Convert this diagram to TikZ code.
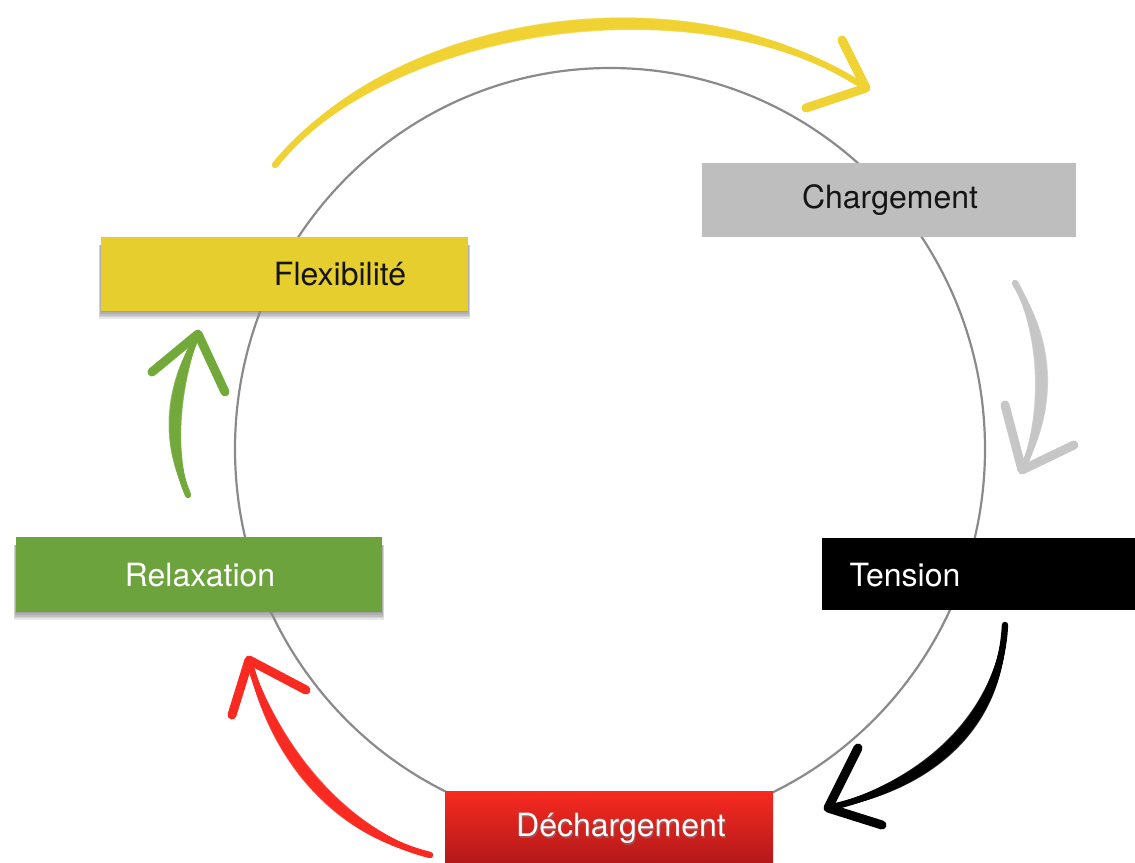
\documentclass[tikz,border=0pt]{standalone}
\usepackage{fontspec}
\setmainfont{TeX Gyre Heros}
\usetikzlibrary{calc,backgrounds}
\definecolor{cring}{HTML}{8A8A8E}
\definecolor{cgrey}{HTML}{BEBEBE}
\definecolor{cyellow}{HTML}{E6CE2F}
\definecolor{cgreen}{HTML}{6CA33C}
\definecolor{credtop}{HTML}{F72A20}
\definecolor{credbot}{HTML}{B4191A}
\definecolor{ayellow}{HTML}{F0D232}
\definecolor{agrey}{HTML}{C6C6C6}
\definecolor{ared}{HTML}{F82A22}
\definecolor{agreen}{HTML}{72A93A}
% barbs: a few offset strokes
\newcommand\brushdraw[2]{%
  \foreach \dx/\dy/\w/\o in {0/0/4.5/1, 1.5/1.2/2/0.8, -1.5/-1.2/2/0.8, 2.5/-2/1/0.6, -2.5/2/1/0.6}{%
    \draw[#1, line width=\w pt, opacity=\o, line cap=round, line join=round, shift={(\dx,\dy)}] #2;
  }}
% body: bundle of curves sharing end points, bulging in the middle
% #1 colour, #2 start, #3 end, #4 control 1, #5 control 2, #6 unit normal
\newcommand\brushcurve[6]{%
  \draw[#1, line width=3.2pt, line cap=round] (#2) .. controls (#4) and (#5) .. (#3);
  \foreach \k/\w/\o in {-7.5/1/0.6, -6/1.6/0.85, -4.5/1.8/0.95, -3/2/1, -1.5/2.2/1, 1.5/2.2/1, 3/2/1, 4.5/1.8/0.95, 6/1.6/0.85, 7.5/1/0.6}{%
    \draw[#1, line width=\w pt, opacity=\o, line cap=round]
      (#2) .. controls ($(#4)+\k*(#6)$) and ($(#5)+\k*(#6)$) .. (#3);
  }}
\newcommand\softshadow[1]{%
  \begin{scope}[on background layer]
  \foreach \i in {0,1,2,3,4}{%
    \fill[black, opacity=0.09] ($(#1.north west)+(-\i/2,8)$) rectangle ($(#1.south east)+(\i/2,1+1.6*\i)$);
  }
  \end{scope}}
\tikzset{
  box/.style={draw=none, inner sep=0pt, anchor=center},
  lbl/.style={inner sep=0pt, anchor=center, font=\fontsize{16}{19}\selectfont}
}
\begin{document}
\begin{tikzpicture}[x=0.5pt,y=-0.5pt]
\useasboundingbox (0,0) rectangle (1135,862);
% ring
\draw[cring, line width=1.1pt] (610,449) ellipse [x radius=187.5pt, y radius=190.5pt];

% boxes
\node[box, fill=cgrey, minimum width=187pt, minimum height=37pt] (charge) at (889,200) {};
\node[box, fill=cyellow, minimum width=183.5pt, minimum height=37pt] (flex) at (284.5,274) {};
\node[box, fill=black, minimum width=156.5pt, minimum height=36pt] (tens) at (978.5,574) {};
\node[box, fill=cgreen, minimum width=183pt, minimum height=37.5pt] (relax) at (199,574.5) {};
\node[box, top color=credtop, bottom color=credbot, minimum width=164pt, minimum height=35.5pt] (dech) at (609,826.5) {};
\softshadow{flex}
\softshadow{relax}

% labels
\node[lbl, text=black!92] (tcharge) at (890,200) {Chargement};
\node[lbl, text=black!92] (tflex) at (340,274) {Flexibilité};
\node[lbl, text=white] (ttens) at (905,575) {Tension};
\node[lbl, text=white] (trelax) at (200,575) {Relaxation};
\node[lbl, text=black!50, opacity=0.5] at (622,830) {Déchargement};
\node[lbl, text=white] (tdech) at (621,828) {Déchargement};

% yellow arrow
\coordinate (y0) at (275,165); \coordinate (y1) at (866,88);
\coordinate (yb1) at (842,40); \coordinate (yb2) at (806,108);
\brushcurve{ayellow}{y0}{y1}{390,22}{690,-28}{0.13,1}
\brushdraw{ayellow}{(yb1) -- (y1) -- (yb2)}

% grey arrow
\coordinate (g0) at (1015,283); \coordinate (g1) at (1022,470);
\coordinate (gb1) at (1005,405); \coordinate (gb2) at (1074,445);
\brushcurve{agrey}{g0}{g1}{1048,340}{1050,410}{1,0}
\brushdraw{agrey}{(gb1) -- (g1) -- (gb2)}

% black arrow
\coordinate (k0) at (1005,625); \coordinate (k1) at (828,808);
\coordinate (kb1) at (858,748); \coordinate (kb2) at (882,825);
\brushcurve{black}{k0}{k1}{1000,720}{930,785}{0.72,0.7}
\brushdraw{black}{(kb1) -- (k1) -- (kb2)}

% red arrow
\coordinate (r0) at (430,855); \coordinate (r1) at (249,660);
\coordinate (rb1) at (232,715); \coordinate (rb2) at (306,690);
\brushcurve{ared}{r0}{r1}{330,830}{270,740}{0.73,-0.68}
\brushdraw{ared}{(rb1) -- (r1) -- (rb2)}

% green arrow
\coordinate (e0) at (188,495); \coordinate (e1) at (198,334);
\coordinate (eb1) at (152,372); \coordinate (eb2) at (225,392);
\brushcurve{agreen}{e0}{e1}{165,440}{175,380}{1,0.06}
\brushdraw{agreen}{(eb1) -- (e1) -- (eb2)}
\end{tikzpicture}
\end{document}
